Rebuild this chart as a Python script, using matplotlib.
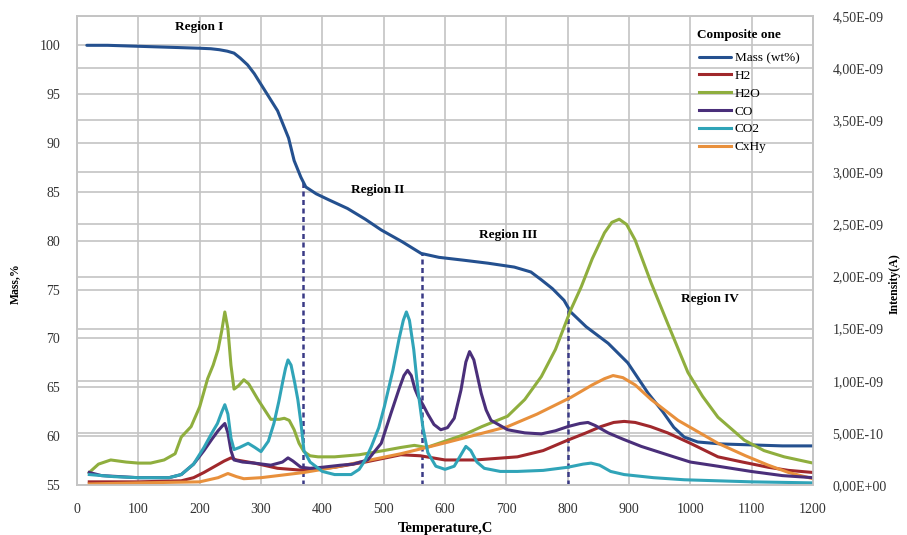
import numpy as np
import matplotlib
matplotlib.use("Agg")
import matplotlib.pyplot as plt
import matplotlib.transforms as mtransforms
from matplotlib.ticker import FixedLocator, FuncFormatter

# ---- Mass loss (left axis, wt%) ----
t_mass = [16, 50, 100, 150, 200, 218, 232, 245, 256, 266, 278, 289, 305, 327, 345, 354,
          365, 373, 390, 410, 441, 470, 496, 530, 561, 590, 631, 670, 713, 740, 757,
          775, 794, 805, 830, 866, 898, 931, 955, 973, 990, 1012, 1050, 1100, 1150, 1200]
mass = [100.0, 100.0, 99.9, 99.8, 99.7, 99.65, 99.55, 99.4, 99.2, 98.7, 98.0, 97.1,
        95.5, 93.3, 90.5, 88.2, 86.5, 85.5, 84.8, 84.2, 83.3, 82.2, 81.1, 79.9, 78.7,
        78.3, 78.0, 77.7, 77.3, 76.8, 76.0, 75.1, 73.9, 72.7, 71.2, 69.5, 67.5, 64.4,
        62.5, 60.9, 59.9, 59.4, 59.2, 59.1, 59.0, 59.0]

# ---- MS ion currents (right axis, in units of 1E-09 A) ----
t_h2 = [20, 100, 170, 190, 207, 225, 240, 251, 260, 289, 327, 370, 420, 470, 528, 560,
        600, 650, 718, 760, 800, 830, 854, 875, 892, 910, 935, 963, 1000, 1045, 1085,
        1127, 1160, 1200]
h2 = [0.03, 0.03, 0.04, 0.07, 0.12, 0.18, 0.23, 0.26, 0.24, 0.21, 0.16, 0.14, 0.17,
      0.22, 0.29, 0.28, 0.24, 0.24, 0.27, 0.33, 0.43, 0.50, 0.56, 0.60, 0.61, 0.60,
      0.56, 0.50, 0.40, 0.27, 0.22, 0.17, 0.14, 0.12]

t_h2o = [20, 35, 55, 80, 100, 120, 142, 160, 170, 186, 200, 213, 222, 230, 236, 241,
         246, 251, 256, 263, 272, 280, 295, 316, 330, 338, 346, 354, 362, 370, 380, 393,
         420, 460, 500, 528, 550, 570, 600, 630, 660, 702, 730, 757, 780, 805, 822, 840,
         860, 872, 884, 896, 910, 936, 963, 996, 1020, 1045, 1088, 1120, 1153, 1200]
h2o = [0.12, 0.20, 0.24, 0.22, 0.21, 0.21, 0.24, 0.30, 0.46, 0.56, 0.75, 1.02, 1.15,
       1.30, 1.48, 1.66, 1.50, 1.15, 0.92, 0.95, 1.01, 0.97, 0.82, 0.63, 0.63, 0.64,
       0.62, 0.53, 0.40, 0.32, 0.28, 0.27, 0.27, 0.29, 0.33, 0.36, 0.38, 0.36, 0.42,
       0.48, 0.56, 0.66, 0.82, 1.04, 1.30, 1.68, 1.90, 2.17, 2.42, 2.52, 2.55, 2.50,
       2.35, 1.94, 1.55, 1.08, 0.85, 0.65, 0.43, 0.33, 0.27, 0.21]

t_co = [20, 40, 70, 100, 150, 170, 190, 207, 220, 230, 236, 241, 246, 251, 256, 270,
        289, 316, 335, 344, 352, 365, 380, 400, 430, 450, 474, 496, 512, 525, 533, 539,
        545, 551, 556, 564, 572, 582, 593, 604, 615, 626, 634, 640, 647, 659, 667, 675,
        702, 730, 757, 780, 800, 820, 833, 845, 866, 890, 920, 973, 1000, 1045, 1099,
        1150, 1200]
co = [0.12, 0.09, 0.08, 0.07, 0.07, 0.10, 0.20, 0.33, 0.44, 0.52, 0.56, 0.59, 0.50,
      0.33, 0.24, 0.22, 0.21, 0.19, 0.22, 0.26, 0.23, 0.17, 0.16, 0.17, 0.19, 0.20,
      0.24, 0.40, 0.69, 0.92, 1.05, 1.10, 1.05, 0.92, 0.85, 0.77, 0.68, 0.58, 0.53,
      0.55, 0.64, 0.91, 1.18, 1.28, 1.20, 0.88, 0.72, 0.62, 0.53, 0.50, 0.49, 0.52,
      0.56, 0.59, 0.60, 0.57, 0.50, 0.44, 0.37, 0.27, 0.22, 0.18, 0.13, 0.09, 0.07]

t_co2 = [20, 60, 100, 150, 170, 190, 207, 220, 229, 236, 241, 246, 251, 256, 265, 279,
         290, 300, 312, 321, 329, 335, 340, 344, 349, 355, 360, 365, 370, 380, 400, 420,
         447, 460, 470, 480, 492, 501, 515, 525, 532, 537, 542, 549, 556, 564, 572, 585,
         600, 615, 627, 634, 642, 652, 664, 690, 718, 760, 800, 825, 838, 852, 870, 892,
         940, 990, 1100, 1200]
co2 = [0.10, 0.08, 0.07, 0.07, 0.10, 0.20, 0.36, 0.50, 0.59, 0.70, 0.77, 0.68, 0.45,
       0.34, 0.36, 0.40, 0.36, 0.32, 0.42, 0.59, 0.80, 0.98, 1.12, 1.20, 1.15, 0.98,
       0.82, 0.60, 0.33, 0.22, 0.13, 0.10, 0.10, 0.15, 0.24, 0.37, 0.55, 0.75, 1.10,
       1.40, 1.58, 1.66, 1.58, 1.30, 0.90, 0.55, 0.31, 0.18, 0.15, 0.18, 0.30, 0.37,
       0.33, 0.22, 0.16, 0.13, 0.13, 0.14, 0.17, 0.20, 0.21, 0.19, 0.13, 0.10, 0.07,
       0.05, 0.03, 0.02]

t_cxhy = [20, 100, 200, 230, 246, 260, 272, 300, 370, 420, 470, 528, 570, 604, 650,
          702, 750, 805, 840, 860, 874, 890, 910, 936, 980, 1045, 1090, 1127, 1160, 1200]
cxhy = [0.01, 0.02, 0.03, 0.07, 0.11, 0.08, 0.06, 0.07, 0.12, 0.17, 0.23, 0.30, 0.36,
        0.41, 0.48, 0.56, 0.68, 0.84, 0.96, 1.02, 1.05, 1.03, 0.96, 0.82, 0.62, 0.40,
        0.28, 0.19, 0.12, 0.06]

# Region boundaries and labels
boundary_temps = [368, 563, 800]
region_names = ["Region I", "Region II", "Region III", "Region IV"]
region_x = [199, 490, 703, 1032]
region_y = [101.9, 85.2, 80.6, 74.0]

x_ticks = list(range(0, 1201, 100))
left_ticks = list(range(55, 101, 5))
right_ticks = [0.0, 0.5, 1.0, 1.5, 2.0, 2.5, 3.0, 3.5, 4.0, 4.5]

# Styling
serif = ["Liberation Serif", "DejaVu Serif"]
plt.rcParams["font.family"] = serif
grid_c = "#c4c4c4"
colors = {
    "mass": "#24508f",
    "h2": "#a0282c",
    "h2o": "#8fae3e",
    "co": "#4a2f7a",
    "co2": "#30a4b8",
    "cxhy": "#e8903c",
}

fig = plt.figure(figsize=(9.07, 5.35), dpi=100)
ax = fig.add_axes([0.0849, 0.0935, 0.8115, 0.8766])
ax2 = ax.twinx()

ax.set_xlim(0, 1200)
ax.set_ylim(55, 103)
ax2.set_ylim(0, 4.5)

# grid: vertical + left-axis horizontals on the base axes
for xv in x_ticks:
    ax.axvline(xv, color=grid_c, lw=1.2, zorder=0)
for yv in left_ticks:
    ax.axhline(yv, color=grid_c, lw=1.2, zorder=0)
# right-axis horizontals, drawn underneath everything as well
blend = mtransforms.blended_transform_factory(ax.transAxes, ax2.transData)
for yv in right_ticks:
    ax.plot([0, 1], [yv, yv], transform=blend, color=grid_c, lw=1.2, zorder=0)

lw = 2.2
l_mass, = ax.plot(t_mass, mass, color=colors["mass"], lw=lw, zorder=3,
                  solid_capstyle="round")

# dashed region boundaries from the floor up to the mass curve
tops = np.interp(boundary_temps, t_mass, mass)
ax.vlines(boundary_temps, 55, tops, colors="#3a3a86", linestyles=(0, (2, 1.4)),
          lw=1.8, zorder=2)

l_h2, = ax2.plot(t_h2, h2, color=colors["h2"], lw=lw)
l_h2o, = ax2.plot(t_h2o, h2o, color=colors["h2o"], lw=lw)
l_cxhy, = ax2.plot(t_cxhy, cxhy, color=colors["cxhy"], lw=lw)
l_co, = ax2.plot(t_co, co, color=colors["co"], lw=lw)
l_co2, = ax2.plot(t_co2, co2, color=colors["co2"], lw=lw)

# ticks
ax.xaxis.set_major_locator(FixedLocator(x_ticks))
ax.yaxis.set_major_locator(FixedLocator(left_ticks))
ax2.yaxis.set_major_locator(FixedLocator(right_ticks))


def sci_comma(v, pos):
    return "{:.2E}".format(v * 1e-9).replace(".", ",")


ax2.yaxis.set_major_formatter(FuncFormatter(sci_comma))

tick_c = "#333333"
ax.tick_params(axis="x", length=0, pad=13, labelsize=10, colors=tick_c)
ax.tick_params(axis="y", length=0, pad=12, labelsize=10, colors=tick_c)
ax2.tick_params(axis="y", length=0, pad=14, labelsize=10, colors=tick_c)

for a in (ax, ax2):
    for s in a.spines.values():
        s.set_color(grid_c)
        s.set_linewidth(1.2)

ax.set_xlabel("Temperature,C", fontsize=10.5, fontweight="bold", labelpad=4)
fig.text(0.017, 0.47, "Mass,%", rotation=90, ha="center", va="center",
         fontsize=8.5, fontweight="bold")
fig.text(0.986, 0.47, "Intensity(A)", rotation=90, ha="center", va="center",
         fontsize=8.5, fontweight="bold")

for name, xv, yv in zip(region_names, region_x, region_y):
    ax.text(xv, yv, name, ha="center", va="center", fontsize=9.5,
            fontweight="bold", zorder=5)

# legend heading, set a little apart from the entries
fig.text(0.768, 1 - 35 / 535, "Composite one", ha="left", va="center",
         fontsize=9.5, fontweight="bold")
leg = ax2.legend([l_mass, l_h2, l_h2o, l_co, l_co2, l_cxhy],
                 ["Mass (wt%)", "H2", "H2O", "CO", "CO2", "CxHy"],
                 loc="upper left",
                 bbox_to_anchor=(0.771, 1 - 52 / 535), bbox_transform=fig.transFigure,
                 frameon=False, fontsize=9.5, handlelength=2.4, handletextpad=0.3,
                 labelspacing=0.42, borderaxespad=0.0, borderpad=0.0)

fig.savefig("out.png", dpi=100)
